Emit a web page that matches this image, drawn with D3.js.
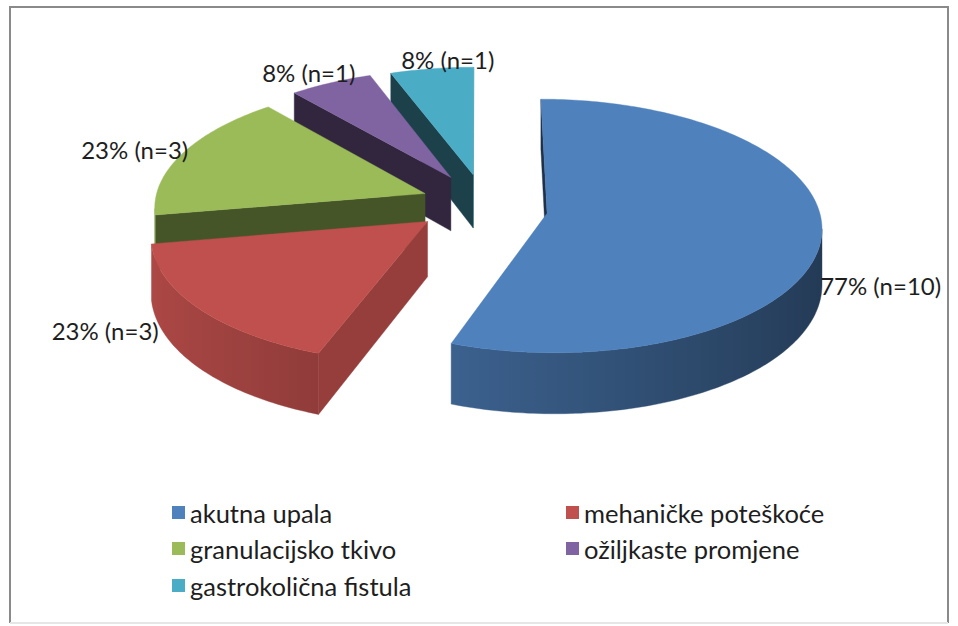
<!DOCTYPE html>
<html><head><meta charset="utf-8">
<script src="https://cdn.jsdelivr.net/npm/d3@7"></script>
<style>
body{margin:0;background:#fff}
svg{display:block}
text{font-family:Lato,"Open Sans",sans-serif;fill:#1e1e1e}
</style>
</head><body>
<svg id="c" width="958" height="626"></svg>
<script>
// ---- data ----
const categories = ["akutna upala","mehaničke poteškoće","granulacijsko tkivo","ožiljkaste promjene","gastrokolična fistula"];
const counts = [10,3,3,1,1];
const percents = [77,23,23,8,8];
const colors = ["#4F81BD","#C0504D","#9BBB59","#8064A2","#4BACC6"];

// ---- layout ----
const svg = d3.select("#c");
const defs = svg.append("defs");
const frame = svg.append("g").attr("fill","none").attr("stroke-width",2);
frame.append("path").attr("d","M10,623V7H948V623").attr("stroke","#8a8a8a");
frame.append("path").attr("d","M10,623H948").attr("stroke","#e6e6e6");

const cx=479, cy=205, R=271, K=0.457, A=0.000365, TH=54.6;
const explode=[70,62,60,68,68];
const explodeShift=5*Math.PI/180;
const labelOffset=[[59,22],[-94,-8],[-48,-30],[-22,-35],[16,-34]];
const labelSize=24, legendSize=25.5;

function proj(u,w,t){const f=1/(1+A*w);return [cx+u*f, cy-K*w*f+t*TH*f];}
function shade(col,f){const c=d3.rgb(col);return d3.rgb(c.r*f,c.g*f,c.b*f).formatHex();}
const camW=-1/A;

const arcs=d3.pie().sort(null).value(d=>d)(counts);
const sideFaces=[], topFaces=[], labels=[];

arcs.forEach((a,i)=>{
  const s=a.startAngle, e=a.endAngle, m=(s+e)/2+explodeShift;
  const ou=explode[i]*Math.sin(m), ow=explode[i]*Math.cos(m);
  const rim=th=>[ou+R*Math.sin(th), ow+R*Math.cos(th)];
  const n=Math.max(2,Math.ceil((e-s)/(Math.PI/180)));
  const ths=d3.range(n+1).map(j=>s+(e-s)*j/n);
  const top=[proj(ou,ow,0)].concat(ths.map(th=>{const p=rim(th);return proj(p[0],p[1],0);}));
  topFaces.push({i,pts:top,fill:colors[i]});
  let run=[];
  const runs=[];
  for(let j=0;j<n;j++){
    const tm=(ths[j]+ths[j+1])/2, p=rim(tm);
    const vis=Math.sin(tm)*(0-p[0])+Math.cos(tm)*(camW-p[1])>0;
    if(vis){ if(run.length===0) run.push(ths[j]); run.push(ths[j+1]); }
    else if(run.length){runs.push(run);run=[];}
  }
  if(run.length) runs.push(run);
  runs.forEach((r,ri)=>{
    const tp=r.map(th=>{const p=rim(th);return proj(p[0],p[1],0);});
    const bp=r.map(th=>{const p=rim(th);return proj(p[0],p[1],1);}).reverse();
    const xs=tp.map(p=>p[0]);
    const x0=d3.min(xs), x1=d3.max(xs);
    const id=`sg${i}_${ri}`;
    const g=defs.append("linearGradient").attr("id",id).attr("gradientUnits","userSpaceOnUse")
      .attr("x1",x0).attr("x2",x1).attr("y1",0).attr("y2",0);
    const stops=r.map((th,k)=>({o:(x1>x0)?(xs[k]-x0)/(x1-x0):0,c:shade(colors[i],0.45+0.45*(1-Math.sin(th))/2)}))
      .sort((p,q)=>p.o-q.o);
    stops.forEach(st=>g.append("stop").attr("offset",st.o).attr("stop-color",st.c));
    const depth=d3.mean(r,th=>rim(th)[1]);
    sideFaces.push({pts:tp.concat(bp),fill:`url(#${id})`,depth});
  });
  [[s,[-Math.cos(s),Math.sin(s)]],[e,[Math.cos(e),-Math.sin(e)]]].forEach(([th,nrm])=>{
    const vis=nrm[0]*(0-ou)+nrm[1]*(camW-ow)>0;
    if(!vis) return;
    const p=rim(th);
    const pts=[proj(ou,ow,0),proj(p[0],p[1],0),proj(p[0],p[1],1),proj(ou,ow,1)];
    sideFaces.push({pts,fill:shade(colors[i],0.38+0.42*Math.max(0,nrm[0])),depth:(ow+p[1])/2});
  });
  const mid=(s+e)/2, pm=rim(mid), an=proj(pm[0],pm[1],0.5);
  labels.push({i,x:an[0]+labelOffset[i][0],y:an[1]+labelOffset[i][1],
    text:`${percents[i]}% (n=${counts[i]})`});
});

const line=d3.line();
const gPie=svg.append("g");
sideFaces.sort((p,q)=>q.depth-p.depth).forEach(f=>{
  gPie.append("path").attr("d",line(f.pts)+"Z").attr("fill",f.fill).attr("stroke",f.fill).attr("stroke-width",0.4).attr("stroke-linejoin","round");
});
topFaces.forEach(f=>{
  gPie.append("path").attr("d",line(f.pts)+"Z").attr("fill",f.fill).attr("stroke",f.fill).attr("stroke-width",0.4);
});

svg.append("g").selectAll("text").data(labels).join("text")
  .attr("x",d=>d.x).attr("y",d=>d.y).attr("text-anchor","middle").attr("dominant-baseline","central")
  .attr("font-size",labelSize).text(d=>d.text);

const legX=[172,566], legY=[513,549,586];
const leg=svg.append("g").selectAll("g").data(categories).join("g")
  .attr("transform",(d,i)=>`translate(${legX[i%2]},${legY[Math.floor(i/2)]})`);
leg.append("rect").attr("x",0).attr("y",-7).attr("width",13).attr("height",13).attr("fill",(d,i)=>colors[i]);
leg.append("text").attr("x",18).attr("y",0).attr("dominant-baseline","central").attr("font-size",legendSize).text(d=>d);
</script>
</body></html>
